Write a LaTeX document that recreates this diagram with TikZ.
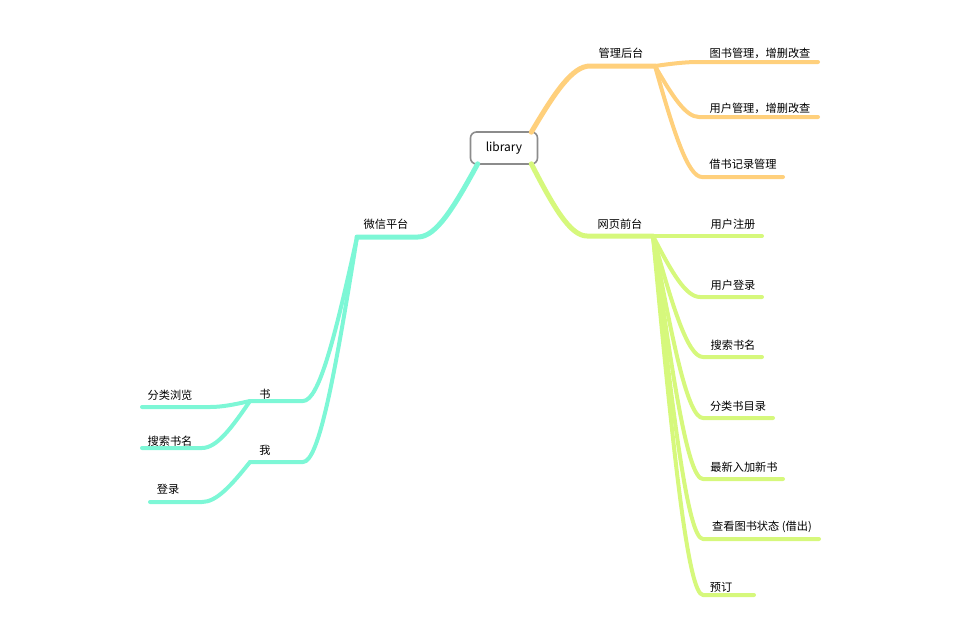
\documentclass[tikz,border=0pt]{standalone}
\usepackage{fontspec}
\setmainfont{Noto Sans CJK SC}
\usetikzlibrary{calc}
\definecolor{glcol}{HTML}{FFD07C}
\definecolor{wycol}{HTML}{D6F87C}
\definecolor{wxcol}{HTML}{7DF7D6}

\begin{document}
\begin{tikzpicture}[x=1pt,y=-1pt,line cap=round,line join=round,
    lbl/.style={font=\fontsize{11.2}{13}\selectfont, inner sep=0pt},
    rootbox/.style={draw=black!45, line width=1.6pt, fill=white, rounded corners=6pt,
      minimum width=67pt, minimum height=32pt, font=\fontsize{12}{14}\selectfont},
    trunk/.style={line width=5pt},
    twig/.style={line width=4pt},
    sway/.style={to path={let \p1=(\tikztostart), \p2=(\tikztotarget) in
      .. controls ({0.6*\x1+0.4*\x2},{0.4*\y1+0.6*\y2}) and ({0.3*\x1+0.7*\x2},\y2) .. (\tikztotarget) \tikztonodes}}]
    \useasboundingbox (0,0) rectangle (960,640);

    % 管理后台
    \coordinate (glA) at (590,66);
    \coordinate (glB) at (655,66);
    \coordinate (gl1A) at (698,62);
    \coordinate (gl1B) at (818,62);
    \coordinate (gl2A) at (699,117);
    \coordinate (gl2B) at (818,117);
    \coordinate (gl3A) at (702,177);
    \coordinate (gl3B) at (783,177);
    \draw[twig, glcol] (glB) to[sway] (gl1A) -- (gl1B);
    \draw[twig, glcol] (glB) to[sway] (gl2A) -- (gl2B);
    \draw[twig, glcol] (glB) to[sway] (gl3A) -- (gl3B);

    % 网页前台
    \coordinate (wyA) at (587,236);
    \coordinate (wyB) at (653,236);
    \coordinate (wy1B) at (762,236);
    \coordinate (wy2A) at (700,297);
    \coordinate (wy2B) at (762,297);
    \coordinate (wy3A) at (703,357);
    \coordinate (wy3B) at (762,357);
    \coordinate (wy4A) at (703,418);
    \coordinate (wy4B) at (773,418);
    \coordinate (wy5A) at (703,479);
    \coordinate (wy5B) at (783,479);
    \coordinate (wy6A) at (703,539);
    \coordinate (wy6B) at (819,539);
    \coordinate (wy7A) at (703,595);
    \coordinate (wy7B) at (754,595);
    \draw[twig, wycol] (wyB) -- (wy1B);
    \draw[twig, wycol] (wyB) to[sway] (wy2A) -- (wy2B);
    \draw[twig, wycol] (wyB) to[sway] (wy3A) -- (wy3B);
    \draw[twig, wycol] (wyB) to[sway] (wy4A) -- (wy4B);
    \draw[twig, wycol] (wyB) to[sway] (wy5A) -- (wy5B);
    \draw[twig, wycol] (wyB) to[sway] (wy6A) -- (wy6B);
    \draw[twig, wycol] (wyB) to[sway] (wy7A) -- (wy7B);

    % 微信平台
    \coordinate (wxA) at (418,237);
    \coordinate (wxB) at (357,237);
    \coordinate (shuA) at (303,401);
    \coordinate (shuB) at (250,401);
    \coordinate (woA) at (303,462);
    \coordinate (woB) at (250,462);
    \coordinate (sh1A) at (210,407);
    \coordinate (sh1B) at (142,407);
    \coordinate (sh2A) at (202,448);
    \coordinate (sh2B) at (142,448);
    \coordinate (wo1A) at (202,502);
    \coordinate (wo1B) at (150,502);
    \draw[twig, wxcol] (wxB) to[sway] (shuA) -- (shuB);
    \draw[twig, wxcol] (wxB) to[sway] (woA) -- (woB);
    \draw[twig, wxcol] (shuB) to[sway] (sh1A) -- (sh1B);
    \draw[twig, wxcol] (shuB) to[sway] (sh2A) -- (sh2B);
    \draw[twig, wxcol] (woB) to[sway] (wo1A) -- (wo1B);

    \node[rootbox] (root) at (504,148) {library};
    \draw[trunk, glcol] ([xshift=-7pt,yshift=-1pt]root.north east) to[sway] (glA) -- (glB);
    \draw[trunk, wycol] ([xshift=-7pt,yshift=1pt]root.south east) to[sway] (wyA) -- (wyB);
    \draw[trunk, wxcol] ([xshift=8pt,yshift=1pt]root.south west) to[sway] (wxA) -- (wxB);

    \node[lbl] (gl) at (621,53) {管理后台};
    \node[lbl] (gl1) at (760,53) {图书管理，增删改查};
    \node[lbl] (gl2) at (760,108) {用户管理，增删改查};
    \node[lbl] (gl3) at (743,164) {借书记录管理};

    \node[lbl] (wy) at (620,224) {网页前台};
    \node[lbl] (wy1) at (733,224) {用户注册};
    \node[lbl] (wy2) at (733,285) {用户登录};
    \node[lbl] (wy3) at (733,345) {搜索书名};
    \node[lbl] (wy4) at (738,406) {分类书目录};
    \node[lbl] (wy5) at (744,467) {最新入加新书};
    \node[lbl] (wy6) at (762,527) {查看图书状态 (借出)};
    \node[lbl] (wy7) at (721,587) {预订};

    \node[lbl] (wx) at (386,224) {微信平台};
    \node[lbl] (shu) at (265,394) {书};
    \node[lbl] (wo) at (265,450) {我};
    \node[lbl] (sh1) at (170,395) {分类浏览};
    \node[lbl] (sh2) at (170,441) {搜索书名};
    \node[lbl] (wo1) at (168,489) {登录};
\end{tikzpicture}
\end{document}
